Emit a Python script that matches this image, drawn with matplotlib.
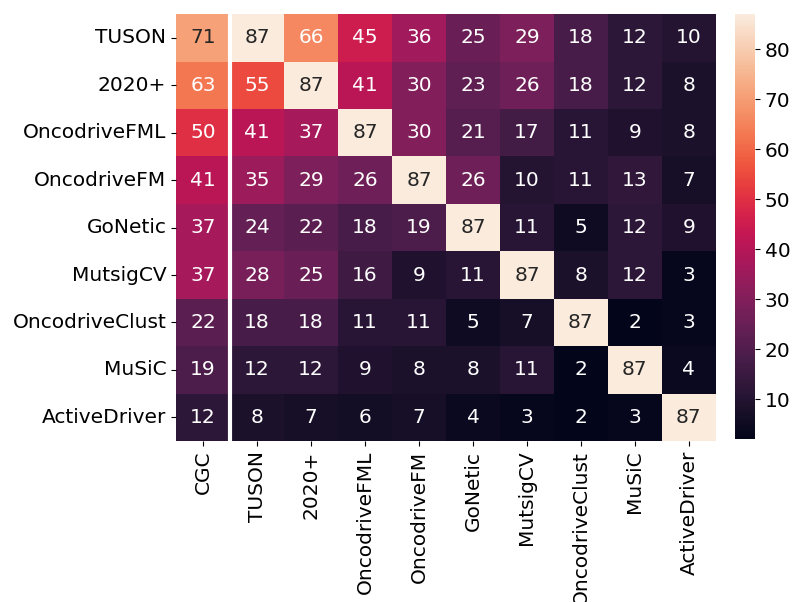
import numpy as np
import matplotlib
matplotlib.use("Agg")
import matplotlib.pyplot as plt
import seaborn as sns

rows = ["TUSON", "2020+", "OncodriveFML", "OncodriveFM", "GoNetic",
        "MutsigCV", "OncodriveClust", "MuSiC", "ActiveDriver"]
cols = ["CGC", "TUSON", "2020+", "OncodriveFML", "OncodriveFM", "GoNetic",
        "MutsigCV", "OncodriveClust", "MuSiC", "ActiveDriver"]

tuson = [71, 87, 66, 45, 36, 25, 29, 18, 12, 10]
t2020 = [63, 55, 87, 41, 30, 23, 26, 18, 12, 8]
fml = [50, 41, 37, 87, 30, 21, 17, 11, 9, 8]
fm = [41, 35, 29, 26, 87, 26, 10, 11, 13, 7]
gonetic = [37, 24, 22, 18, 19, 87, 11, 5, 12, 9]
mutsig = [37, 28, 25, 16, 9, 11, 87, 8, 12, 3]
clust = [22, 18, 18, 11, 11, 5, 7, 87, 2, 3]
music = [19, 12, 12, 9, 8, 8, 11, 2, 87, 4]
active = [12, 8, 7, 6, 7, 4, 3, 2, 3, 87]

data = np.array([tuson, t2020, fml, fm, gonetic, mutsig, clust, music, active])

fs = 14.5

fig = plt.figure(figsize=(7.98, 6.02), dpi=100)
ax = fig.add_axes([0.2206, 0.2674, 0.6765, 0.709])
cax = fig.add_axes([0.921, 0.2707, 0.025, 0.7060])

sns.heatmap(data, annot=True, fmt="d", cmap="rocket", ax=ax, cbar_ax=cax,
            xticklabels=cols, yticklabels=rows, annot_kws={"size": fs})

# separator between CGC and the tools
ax.axvline(1, color="white", linewidth=3)

ax.tick_params(axis="both", labelsize=fs)
plt.setp(ax.get_xticklabels(), rotation=90)
plt.setp(ax.get_yticklabels(), rotation=0)
cax.tick_params(labelsize=fs)

fig.savefig("out.png", dpi=100)
